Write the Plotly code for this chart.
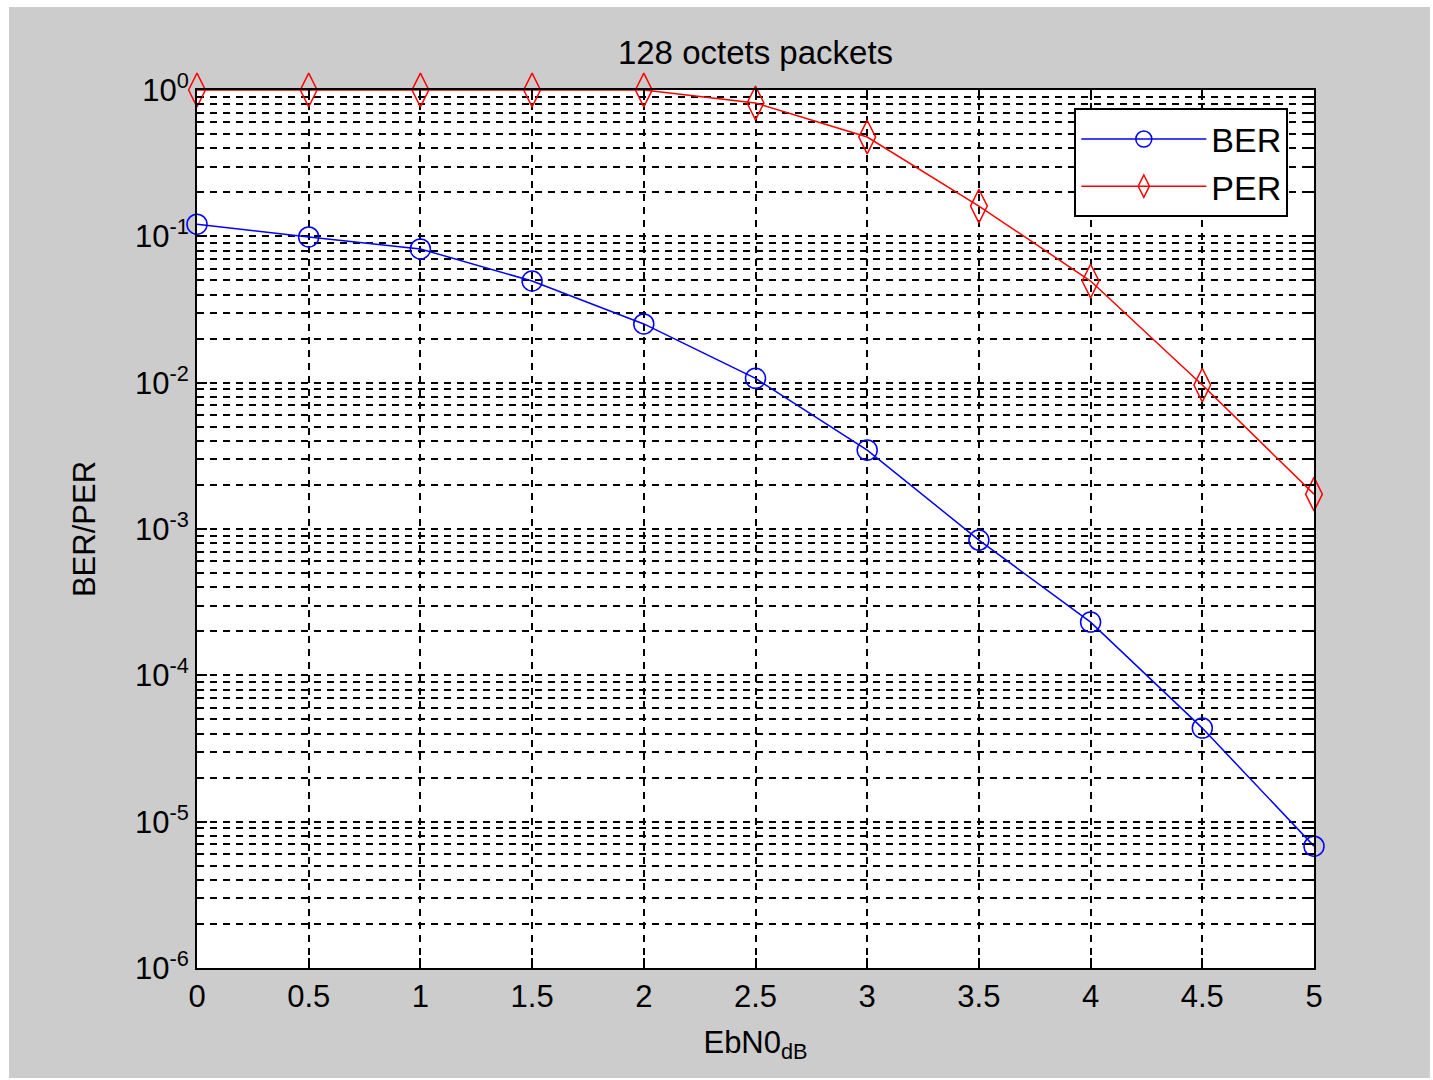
import plotly.graph_objects as go

ebn0 = [0, 0.5, 1, 1.5, 2, 2.5, 3, 3.5, 4, 4.5, 5]
ber = [0.121, 0.099, 0.082, 0.0495, 0.0252, 0.0107, 0.00346, 8.4e-4, 2.31e-4, 4.36e-5, 6.8e-6]
per = [1.0, 1.0, 1.0, 1.0, 1.0, 0.815, 0.477, 0.161, 0.0495, 0.00963, 0.00173]

x_ticks = [0, 0.5, 1, 1.5, 2, 2.5, 3, 3.5, 4, 4.5, 5]
x_ticktext = ["0", "0.5", "1", "1.5", "2", "2.5", "3", "3.5", "4", "4.5", "5"]
y_exponents = [-6, -5, -4, -3, -2, -1, 0]
y_ticks = [10.0 ** e for e in y_exponents]
y_ticktext = ["10<sup>%d</sup>" % e for e in y_exponents]
y_minor = [m * 10.0 ** e for e in range(-6, 0) for m in range(2, 10)]

FONT = "Liberation Sans, Arial, sans-serif"
GRIDDASH = "7px,6px"

fig = go.Figure()
fig.add_trace(go.Scatter(
    x=ebn0, y=ber, name="BER", mode="lines+markers",
    line=dict(color="#0000ff", width=1.5),
    marker=dict(symbol="circle-open", size=20, color="#0000ff", line=dict(width=1.5)),
    cliponaxis=False,
))
fig.add_trace(go.Scatter(
    x=ebn0, y=per, name="PER", mode="lines+markers",
    line=dict(color="#ff0000", width=1.5),
    marker=dict(symbol="diamond-tall-open", size=24, color="#ff0000", line=dict(width=1.5)),
    cliponaxis=False,
))

fig.update_layout(
    width=1433, height=1080,
    margin=dict(l=197, r=119, t=90, b=112, autoexpand=False),
    paper_bgcolor="white",
    plot_bgcolor="white",
    font=dict(family=FONT, size=31, color="black"),
    title=dict(text="128 octets packets", x=0.5, xanchor="center", xref="paper",
               y=1 - 52 / 1080, yanchor="middle", yref="container",
               font=dict(family=FONT, size=33, color="black")),
    showlegend=True,
    legend=dict(x=0.977, xanchor="right", y=0.979, yanchor="top",
                bgcolor="white", bordercolor="black", borderwidth=2,
                font=dict(family=FONT, size=34, color="black"),
                itemwidth=125, tracegroupgap=6),
    shapes=[
        dict(type="rect", xref="paper", yref="paper", layer="below",
             x0=-0.1683, x1=1.1038, y0=-0.1253, y1=1.0945,
             fillcolor="#cccccc", line=dict(width=0)),
        dict(type="rect", xref="paper", yref="paper", layer="below",
             x0=0, x1=1, y0=0, y1=1,
             fillcolor="white", line=dict(width=0)),
    ],
)

fig.update_xaxes(
    range=[0, 5], tickmode="array", tickvals=x_ticks, ticktext=x_ticktext,
    ticks="inside", ticklen=10, tickwidth=2, tickcolor="black",
    showline=True, linecolor="black", linewidth=2, mirror="allticks",
    showgrid=True, gridcolor="black", gridwidth=1.5, griddash=GRIDDASH,
    zeroline=False,
    tickfont=dict(family=FONT, size=31, color="black"),
    title=dict(text="EbN0<sub>dB</sub>", standoff=18,
               font=dict(family=FONT, size=31, color="black")),
)
fig.update_yaxes(
    type="log", range=[-6, 0], tickmode="array", tickvals=y_ticks, ticktext=y_ticktext,
    ticks="inside", ticklen=10, tickwidth=2, tickcolor="black",
    showline=True, linecolor="black", linewidth=2, mirror="allticks",
    showgrid=True, gridcolor="black", gridwidth=1.5, griddash=GRIDDASH,
    zeroline=False,
    minor=dict(tickmode="array", tickvals=y_minor, ticks="inside", ticklen=5,
               tickwidth=2, tickcolor="black",
               showgrid=True, gridcolor="black", gridwidth=1.5, griddash=GRIDDASH),
    tickfont=dict(family=FONT, size=31, color="black"),
    title=dict(text="BER/PER", standoff=30,
               font=dict(family=FONT, size=31, color="black")),
)

fig.write_html("out.html")
